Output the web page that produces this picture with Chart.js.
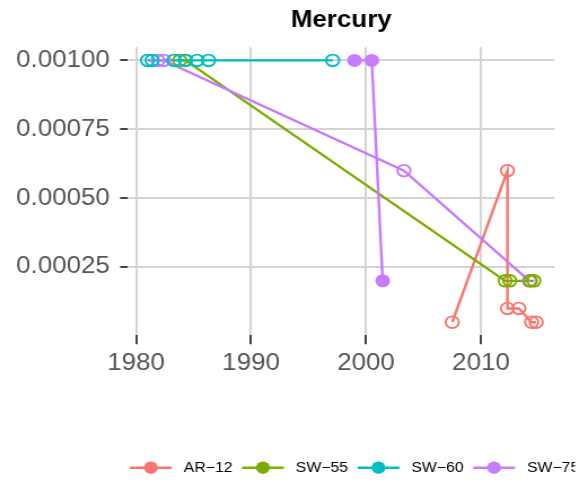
<!DOCTYPE html>
<html>
<head>
<meta charset="utf-8">
<script src="https://cdn.jsdelivr.net/npm/chart.js@4/dist/chart.umd.min.js"></script>
<style>
  html, body { margin: 0; padding: 0; background: #fff; overflow: hidden; }
  #wrap { width: 521px; height: 482px; transform: scaleX(1.1286); transform-origin: 0 0; }
</style>
</head>
<body>
<div id="wrap"><canvas id="chart" width="521" height="482"></canvas></div>
<script>
const chartTitle = 'Mercury';
const seriesNames = ['AR\u221212', 'SW\u221255', 'SW\u221260', 'SW\u221275'];
const seriesColors = ['#F8766D', '#7CAE00', '#00BFC4', '#C77CFF'];

// hollow markers
const ar12Years = [2007.5, 2012.3, 2012.3, 2013.3, 2014.4, 2014.8];
const ar12Values = [0.00005, 0.0006, 0.0001, 0.0001, 0.00005, 0.00005];
const sw55Years = [1983.8, 1984.3, 2012.1, 2012.5, 2014.3, 2014.6];
const sw55Values = [0.001, 0.001, 0.0002, 0.0002, 0.0002, 0.0002];
const sw60Years = [1981.0, 1981.4, 1983.3, 1984.3, 1985.3, 1986.3, 1997.1];
const sw60Values = [0.001, 0.001, 0.001, 0.001, 0.001, 0.001, 0.001];
const sw75Years = [1981.9, 1982.4, 2003.3, 2014.2];
const sw75Values = [0.001, 0.001, 0.0006, 0.0002];
// filled markers
const sw75FilledYears = [1999.0, 2000.5, 2001.45];
const sw75FilledValues = [0.001, 0.001, 0.0002];

const xTicks = [1980, 1990, 2000, 2010];
const yTicks = [0.00025, 0.0005, 0.00075, 0.001];

function pts(xs, ys) {
  return xs.map((x, i) => ({ x: x, y: ys[i] }));
}

// lines are drawn as one layer under all the markers
function line(xs, ys, color, order) {
  return {
    data: pts(xs, ys),
    showLine: true,
    borderColor: color,
    borderWidth: 2.4,
    pointRadius: 0,
    order: order
  };
}

function hollow(xs, ys, color, order) {
  return {
    data: pts(xs, ys),
    showLine: false,
    pointRadius: 5.8,
    pointBorderWidth: 1.9,
    pointBackgroundColor: 'rgba(0,0,0,0)',
    pointBorderColor: color,
    order: order
  };
}

function filled(xs, ys, color, order) {
  return {
    data: pts(xs, ys),
    showLine: false,
    pointRadius: 6.5,
    pointBorderWidth: 0,
    pointBackgroundColor: color,
    pointBorderColor: color,
    order: order
  };
}

const datasets = [
  line(ar12Years, ar12Values, seriesColors[0], 15),
  line(sw55Years, sw55Values, seriesColors[1], 14),
  line(sw60Years, sw60Values, seriesColors[2], 13),
  line(sw75Years, sw75Values, seriesColors[3], 12),
  line(sw75FilledYears, sw75FilledValues, seriesColors[3], 11),
  hollow(ar12Years, ar12Values, seriesColors[0], 5),
  hollow(sw75Years, sw75Values, seriesColors[3], 4),
  filled(sw75FilledYears, sw75FilledValues, seriesColors[3], 3),
  hollow(sw55Years, sw55Values, seriesColors[1], 2),
  hollow(sw60Years, sw60Values, seriesColors[2], 1)
];

const FONT = '"Liberation Sans", Arial, Helvetica, sans-serif';
Chart.defaults.font.family = FONT;

const decor = {
  id: 'decor',
  afterDraw(chart) {
    const ctx = chart.ctx;
    const area = chart.chartArea;
    ctx.save();
    // title
    ctx.fillStyle = '#000';
    ctx.font = 'bold 23px ' + FONT;
    ctx.textAlign = 'center';
    ctx.textBaseline = 'alphabetic';
    ctx.fillText(chartTitle, (area.left + area.right) / 2, 26.7);
    // legend, cut at the right edge like the original
    ctx.beginPath();
    ctx.rect(0, 440, 509.5, 42);
    ctx.clip();
    ctx.font = '14px ' + FONT;
    ctx.textAlign = 'left';
    ctx.textBaseline = 'middle';
    const ly = 467.7;
    let x = 115.2;
    seriesNames.forEach((name, i) => {
      ctx.strokeStyle = seriesColors[i];
      ctx.fillStyle = seriesColors[i];
      ctx.lineWidth = 2.4;
      ctx.beginPath();
      ctx.moveTo(x, ly);
      ctx.lineTo(x + 37, ly);
      ctx.stroke();
      ctx.beginPath();
      ctx.arc(x + 18.5, ly, 6.2, 0, Math.PI * 2);
      ctx.fill();
      ctx.fillStyle = '#000';
      ctx.fillText(name, x + 47.6, ly);
      x += 47.6 + ctx.measureText(name).width + 8.5;
    });
    ctx.restore();
  }
};

new Chart(document.getElementById('chart'), {
  type: 'scatter',
  data: { datasets: datasets },
  options: {
    responsive: false,
    animation: false,
    devicePixelRatio: 1,
    layout: { padding: { left: 0, top: 47.3, right: 29.6, bottom: 106.7 } },
    plugins: { legend: { display: false }, tooltip: { enabled: false }, title: { display: false } },
    scales: {
      x: {
        type: 'linear',
        min: 1979.3,
        max: 2016.4,
        afterBuildTicks: s => { s.ticks = xTicks.map(v => ({ value: v })); },
        afterFit: s => { s.height = 40; },
        grid: { color: '#d4d4d4', lineWidth: 2, tickColor: '#444', tickWidth: 2, tickLength: 9 },
        border: { display: false },
        ticks: {
          color: '#555555',
          font: { size: 23 },
          padding: 6,
          maxRotation: 0,
          autoSkip: false,
          callback: v => String(v)
        }
      },
      y: {
        type: 'linear',
        min: 0.0000025,
        max: 0.0010475,
        afterBuildTicks: s => { s.ticks = yTicks.map(v => ({ value: v })); },
        afterFit: s => { s.width = 113.4; },
        grid: { color: '#d4d4d4', lineWidth: 2, tickColor: '#444', tickWidth: 2, tickLength: 7 },
        border: { display: false },
        ticks: {
          color: '#555555',
          font: { size: 23 },
          padding: 9,
          autoSkip: false,
          callback: v => v.toFixed(5)
        }
      }
    }
  },
  plugins: [decor]
});
</script>
</body>
</html>
